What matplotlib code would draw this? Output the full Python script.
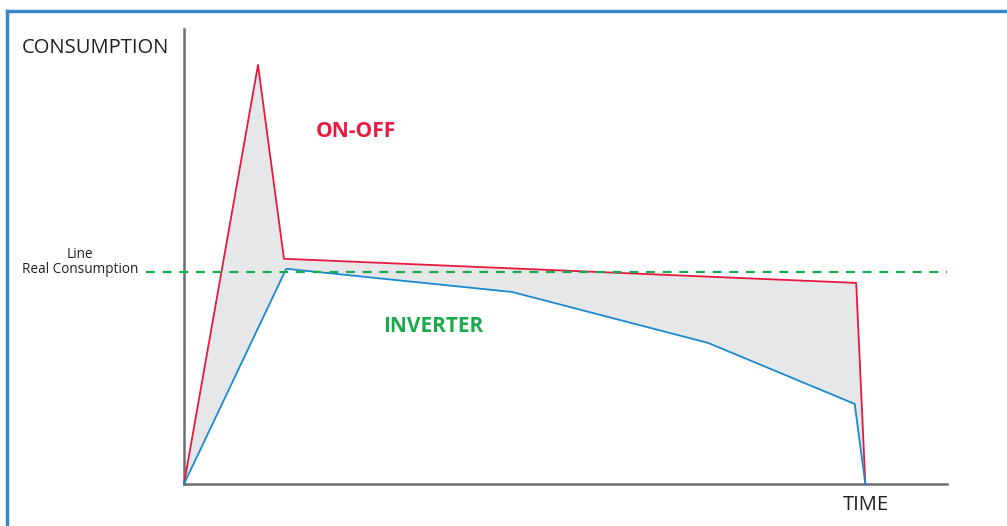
import numpy as np
import matplotlib.pyplot as plt
from matplotlib.lines import Line2D

plt.rcParams['font.family'] = ['Open Sans', 'DejaVu Sans']

# time axis 0..100, consumption axis 0..100
onoff_t = [0, 9.7, 13.1, 88.1, 89.3]
onoff_c = [0, 92.1, 49.5, 44.2, 0]
inverter_t = [0, 13.4, 43.0, 68.7, 87.9, 89.3]
inverter_c = [0, 47.3, 42.2, 31.0, 17.6, 0]
real_line = 46.6

red = '#e8193f'
blue = '#1a8ad0'
green = '#1aaa4c'
axis_grey = '#6d6e70'

fig = plt.figure(figsize=(10.07, 5.26), dpi=100)
W, H = 1007, 526
ax = fig.add_axes([184 / W, 1 - 484 / H, 763 / W, 455 / H])
ax.set_xlim(0, 100)
ax.set_ylim(0, 100)

# grey area between the two curves
poly_x = list(onoff_t) + list(inverter_t[::-1])
poly_y = list(onoff_c) + list(inverter_c[::-1])
ax.fill(poly_x, poly_y, color='#e6e7e8', lw=0, zorder=1)

ax.plot(onoff_t, onoff_c, color=red, lw=1.3, zorder=3, clip_on=False)
ax.plot(inverter_t, inverter_c, color=blue, lw=1.3, zorder=3, clip_on=False)
ax.plot([-5.0, 100], [real_line, real_line], color=green, lw=1.6,
        ls=(0, (4, 3.5)), zorder=4, clip_on=False)

for s in ['top', 'right']:
    ax.spines[s].set_visible(False)
for s in ['left', 'bottom']:
    ax.spines[s].set_color(axis_grey)
    ax.spines[s].set_linewidth(1.8)
ax.set_xticks([])
ax.set_yticks([])
ax.patch.set_alpha(0)

ax.text(17.3, 77.5, 'ON-OFF', color=red, fontsize=15, fontweight='bold',
        ha='left', va='center')
ax.text(26.1, 34.7, 'INVERTER', color=green, fontsize=15, fontweight='bold',
        ha='left', va='center')

fig.text(22 / W, 1 - 48 / H, 'CONSUMPTION', fontsize=14.5, color='#231f20',
         ha='left', va='center')
fig.text(866 / W, 1 - 505 / H, 'TIME', fontsize=14.5, color='#231f20',
         ha='center', va='center')
fig.text(80 / W, 1 - 262 / H, 'Line\nReal Consumption', fontsize=9.8,
         color='#231f20', ha='center', va='center', linespacing=1.0)

# outer frame (top and left edges only visible)
fig.add_artist(Line2D([7 / W, 1], [1 - 11 / H, 1 - 11 / H], color='#3d85c6',
                      lw=2.5, transform=fig.transFigure))
fig.add_artist(Line2D([7 / W, 7 / W], [0, 1 - 11 / H], color='#3d85c6',
                      lw=2.5, transform=fig.transFigure))

fig.savefig('out.png', dpi=100)
